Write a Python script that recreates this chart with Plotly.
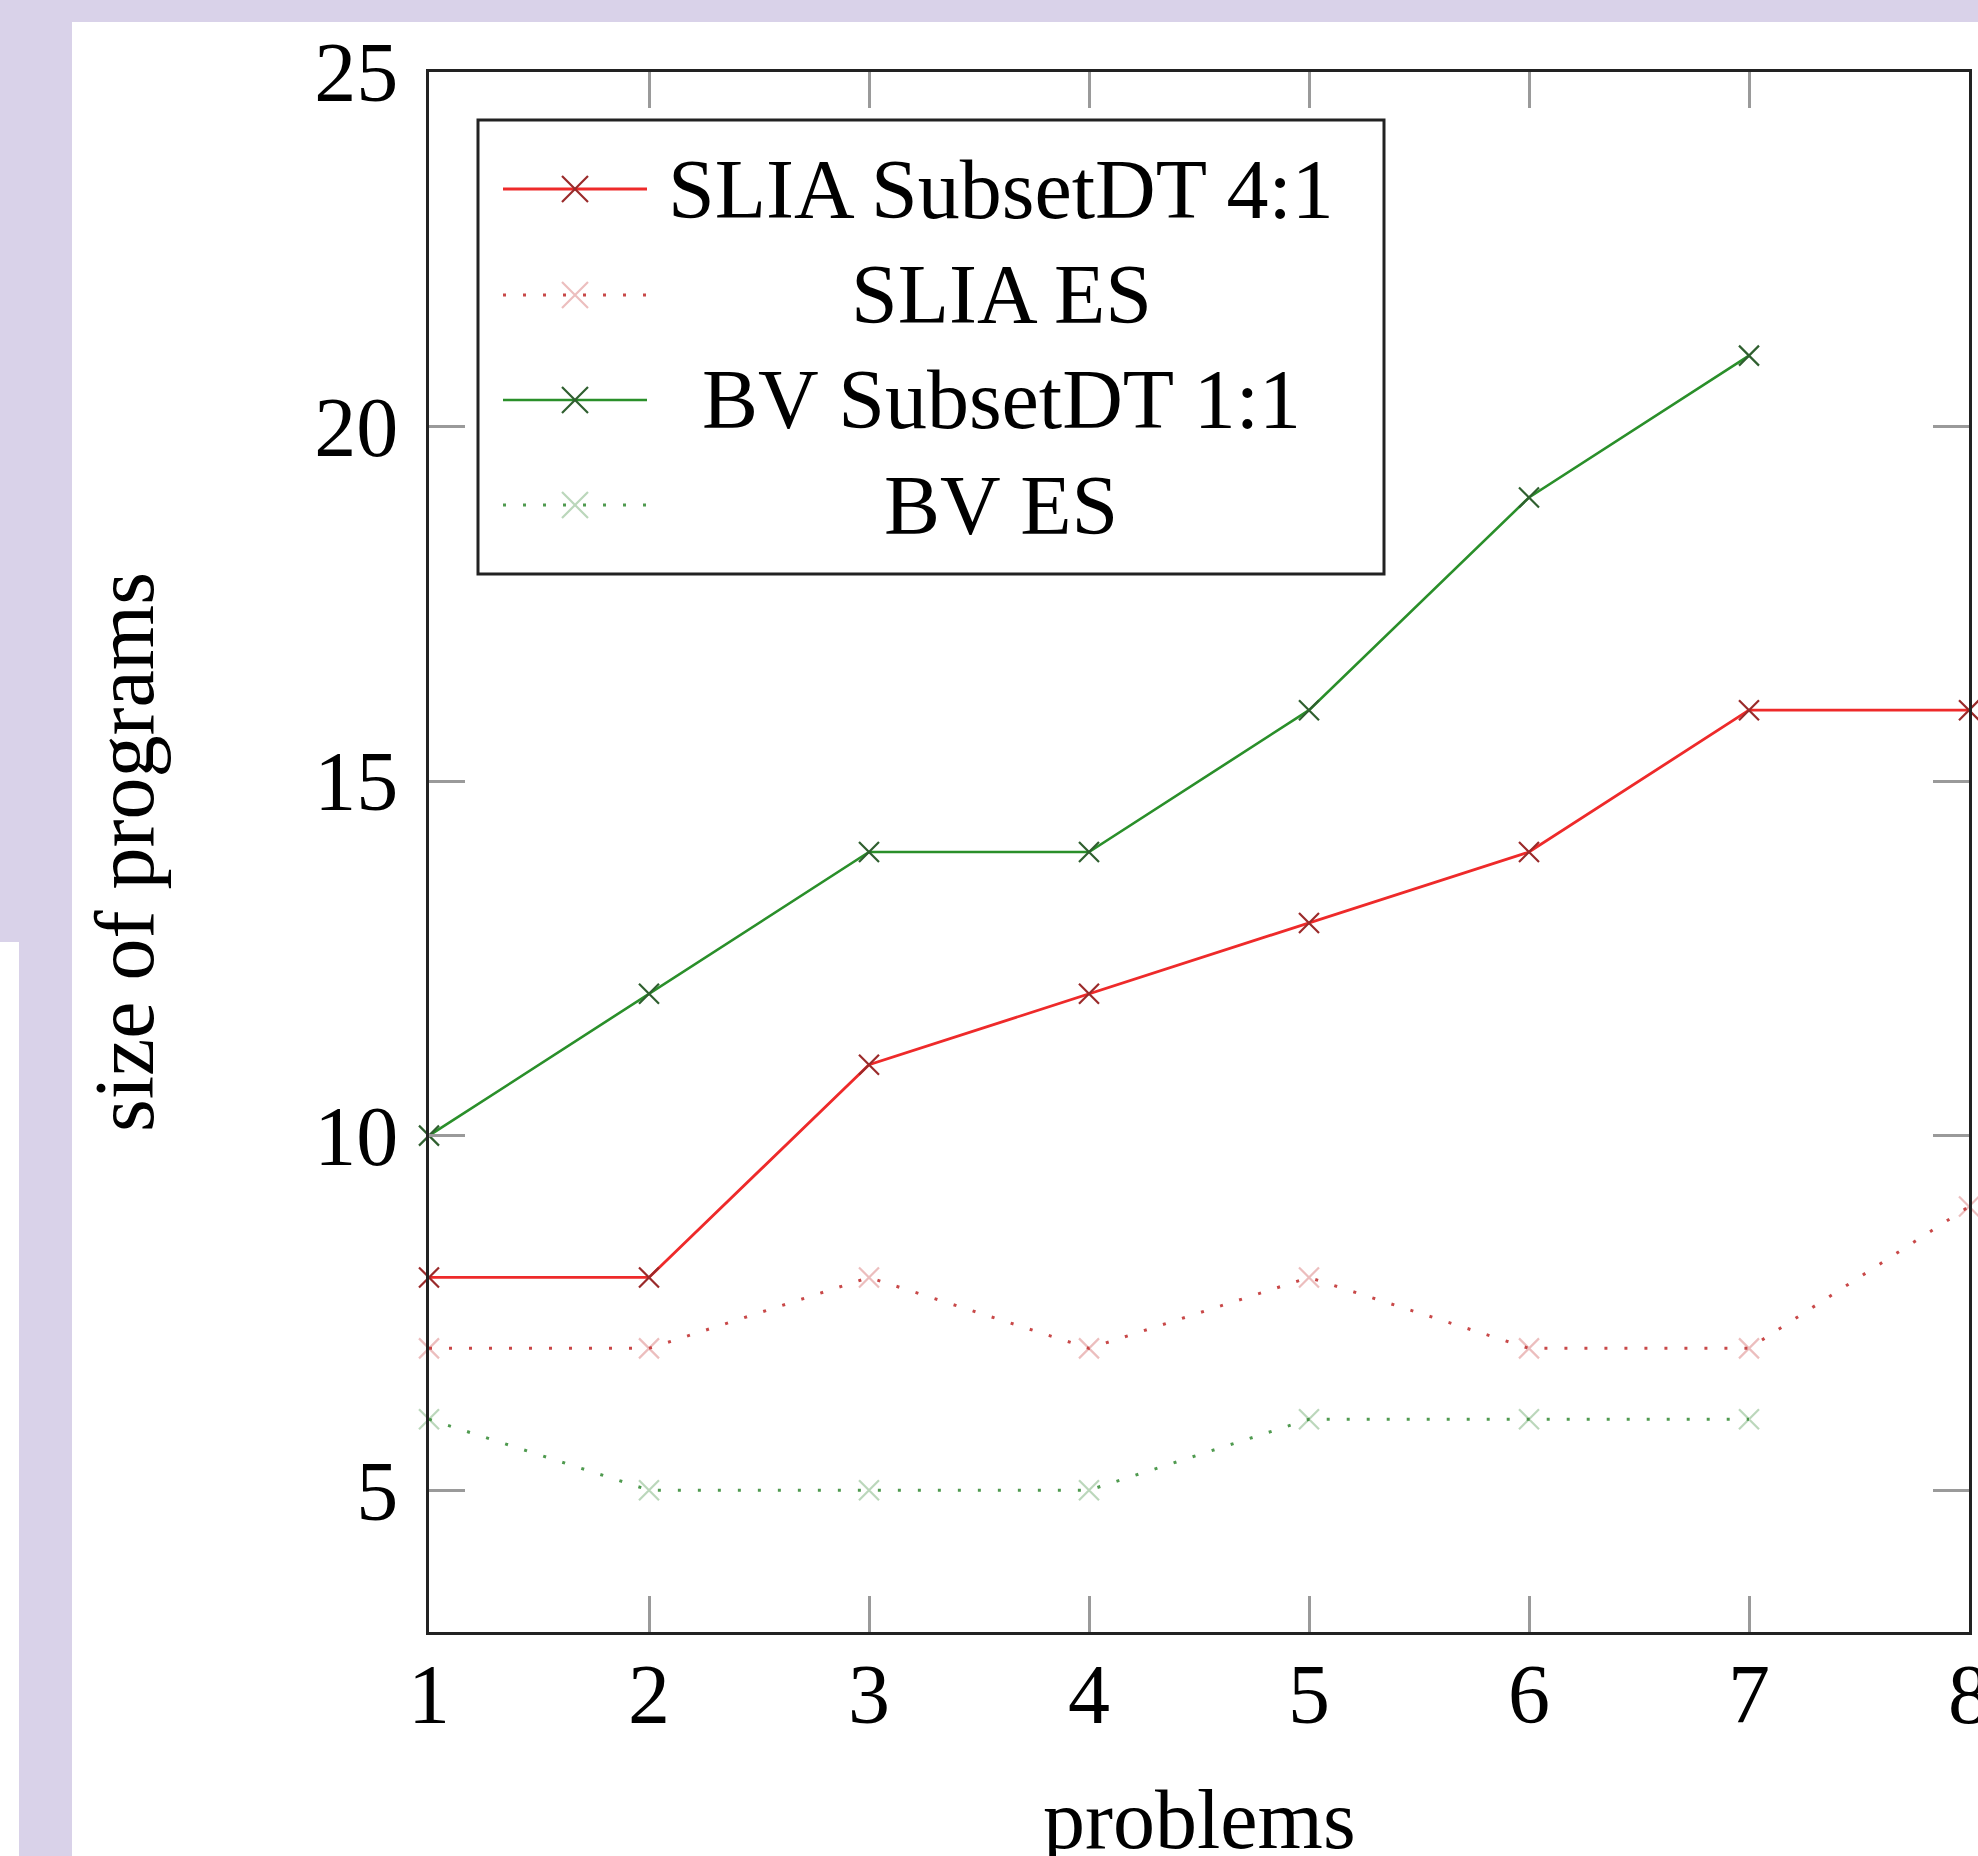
import plotly.graph_objects as go

# ---------------- data ----------------
problems = [1, 2, 3, 4, 5, 6, 7, 8]
slia_subsetdt = [8, 8, 11, 12, 13, 14, 16, 16]
slia_es = [7, 7, 8, 7, 8, 7, 7, 9]
bv_problems = [1, 2, 3, 4, 5, 6, 7]
bv_subsetdt = [10, 12, 14, 14, 16, 19, 21]
bv_es = [6, 5, 5, 5, 6, 6, 6]

x_ticks = [1, 2, 3, 4, 5, 6, 7, 8]
y_ticks = [5, 10, 15, 20, 25]
series_names = ["SLIA SubsetDT 4:1", "SLIA ES", "BV SubsetDT 1:1", "BV ES"]
x_title = "problems"
y_title = "size of programs"

# ---------------- style ----------------
W, H = 1978, 1856
FONT = "Liberation Serif"
FS = 84
LAV = "#d9d2e9"
RED = "#ee2a2a"
RED_MK = "#9a2a2a"
RED_DOT = "#c84848"
GREEN = "#2a8f2a"
GREEN_MK = "#2f5f2f"
GREEN_DOT = "#4f9a4f"
DOTDASH = "3px,17px"


def px(x):
    return x / W


def py(y):
    return 1 - y / H


fig = go.Figure()

styles = [
    dict(x=problems, y=slia_subsetdt, color=RED, mk=RED_MK, dash="solid", lw=2.8),
    dict(x=problems, y=slia_es, color=RED_DOT, mk="rgba(200,70,70,0.35)", dash=DOTDASH, lw=3),
    dict(x=bv_problems, y=bv_subsetdt, color=GREEN, mk=GREEN_MK, dash="solid", lw=2.6),
    dict(x=bv_problems, y=bv_es, color=GREEN_DOT, mk="rgba(60,140,60,0.35)", dash=DOTDASH, lw=3),
]

for name, s in zip(series_names, styles):
    fig.add_trace(go.Scatter(
        x=s["x"], y=s["y"], name=name, mode="lines+markers",
        line=dict(color=s["color"], width=s["lw"], dash=s["dash"]),
        marker=dict(symbol="x-thin", size=20, line=dict(color=s["mk"], width=2.2)),
        cliponaxis=False, showlegend=False,
    ))

shapes = []
# white page regions over the lavender background
shapes.append(dict(type="rect", xref="paper", yref="paper", x0=px(72), x1=1, y0=0, y1=py(22),
                   fillcolor="white", line=dict(width=0), layer="below"))
shapes.append(dict(type="rect", xref="paper", yref="paper", x0=0, x1=px(19), y0=0, y1=py(942),
                   fillcolor="white", line=dict(width=0), layer="below"))

# legend box
LX0, LX1, LY0, LY1 = 478, 1384, 120, 574
shapes.append(dict(type="rect", xref="paper", yref="paper", x0=px(LX0), x1=px(LX1), y0=py(LY1), y1=py(LY0),
                   fillcolor="white", line=dict(color="#222", width=3), layer="above"))
rows = [189, 295, 400, 505]
annotations = []
for name, s, ry in zip(series_names, styles, rows):
    shapes.append(dict(type="line", xref="paper", yref="paper", x0=px(503), x1=px(647), y0=py(ry), y1=py(ry),
                       line=dict(color=s["color"], width=s["lw"], dash=s["dash"]), layer="above"))
    cx, r = 575, 13
    path = (f"M {px(cx-r)} {py(ry-r)} L {px(cx+r)} {py(ry+r)} "
            f"M {px(cx-r)} {py(ry+r)} L {px(cx+r)} {py(ry-r)}")
    shapes.append(dict(type="path", xref="paper", yref="paper", path=path,
                       line=dict(color=s["mk"], width=2.2), layer="above"))
    annotations.append(dict(text=name, xref="paper", yref="paper", x=px(1001), y=py(ry),
                            xanchor="center", yanchor="middle", showarrow=False,
                            font=dict(family=FONT, size=FS, color="black")))

# axis titles
annotations.append(dict(text=x_title, xref="paper", yref="paper", x=px(1199), y=py(1819),
                        xanchor="center", yanchor="middle", showarrow=False,
                        font=dict(family=FONT, size=FS, color="black")))
annotations.append(dict(text=y_title, xref="paper", yref="paper", x=px(124), y=py(852),
                        xanchor="center", yanchor="middle", showarrow=False, textangle=-90,
                        font=dict(family=FONT, size=FS, color="black")))

axis_common = dict(
    showgrid=False, zeroline=False, showline=True, linecolor="#222", linewidth=3,
    mirror="ticks", ticks="inside", ticklen=36, tickwidth=3, tickcolor="#9a9a9a",
    tickfont=dict(family=FONT, size=FS, color="black"), automargin=False,
    ticklabeloverflow="allow",
)

fig.update_layout(
    template="none",
    width=W, height=H,
    margin=dict(l=0, r=0, t=0, b=0, pad=0, autoexpand=False),
    paper_bgcolor=LAV, plot_bgcolor="white",
    showlegend=False,
    xaxis=dict(domain=[px(429), px(1969)], range=[1, 8], tickvals=x_ticks,
               ticklabelstandoff=-13, **axis_common),
    yaxis=dict(domain=[py(1632), py(72)], range=[3, 25], tickvals=y_ticks,
               ticklabelstandoff=11, **axis_common),
    shapes=shapes,
    annotations=annotations,
)

fig.write_html("out.html", config={"displayModeBar": False},
               post_script="document.body.style.margin='0';document.body.style.overflow='hidden';")
